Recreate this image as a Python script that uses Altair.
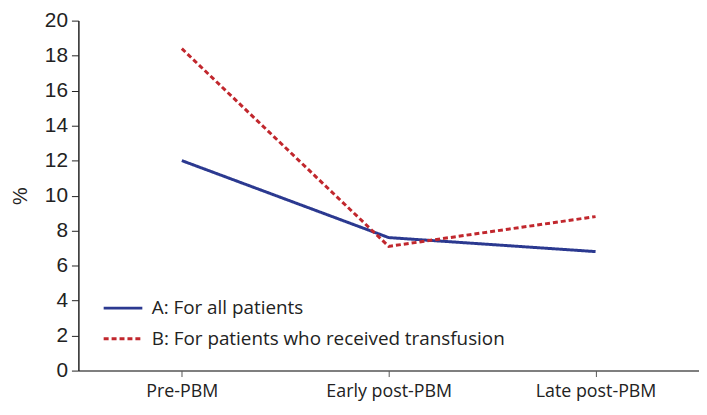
import altair as alt
import pandas as pd

periods = ["Pre-PBM", "Early post-PBM", "Late post-PBM"]
series_names = ["A: For all patients", "B: For patients who received transfusion"]
values_a = [12.0, 7.6, 6.8]
values_b = [18.4, 7.1, 8.8]
y_ticks = [0, 2, 4, 6, 8, 10, 12, 14, 16, 18, 20]

rows = []
for p, v in zip(periods, values_a):
    rows.append({"period": p, "value": v, "series": series_names[0]})
for p, v in zip(periods, values_b):
    rows.append({"period": p, "value": v, "series": series_names[1]})
df = pd.DataFrame(rows)

chart = alt.Chart(df).mark_line(strokeWidth=3).encode(
    x=alt.X("period:N", sort=periods, title=None,
            scale=alt.Scale(type="point", padding=0.5),
            axis=alt.Axis(labelAngle=0, labelFont="Open Sans", labelFontSize=18,
                          labelColor="#222", labelPadding=6, tickSize=6,
                          domainColor="#555", tickColor="#555", domainWidth=1.5)),
    y=alt.Y("value:Q", title="%",
            scale=alt.Scale(domain=[0, 20], nice=False),
            axis=alt.Axis(values=y_ticks, labelFont="Liberation Sans", labelFontSize=21,
                          labelColor="#222", labelPadding=4, tickSize=7,
                          domainColor="#222", tickColor="#222", grid=False,
                          titleFont="Liberation Sans", titleFontSize=20, titleFontWeight="normal",
                          titleColor="#222", titlePadding=14)),
    color=alt.Color("series:N", sort=series_names,
                    scale=alt.Scale(domain=series_names, range=["#2B3990", "#C1272D"]),
                    legend=alt.Legend(title=None, orient="none", legendX=24, legendY=269,
                                      symbolType="stroke", symbolSize=1521, symbolStrokeWidth=3,
                                      labelFont="Open Sans", labelFontSize=19, labelColor="#222",
                                      labelLimit=0, rowPadding=0, labelOffset=8)),
    strokeDash=alt.StrokeDash("series:N", sort=series_names,
                              scale=alt.Scale(domain=series_names, range=[[1, 0], [5, 3]]),
                              legend=None),
).properties(
    width=626, height=353,
    autosize=alt.AutoSizeParams(type="none"),
    padding={"left": 71, "top": 11, "right": 0, "bottom": 35},
).configure_view(stroke=None).configure_axis(domainWidth=1.5)

chart.save("out.html", embed_options={"renderer": "svg", "actions": False})
